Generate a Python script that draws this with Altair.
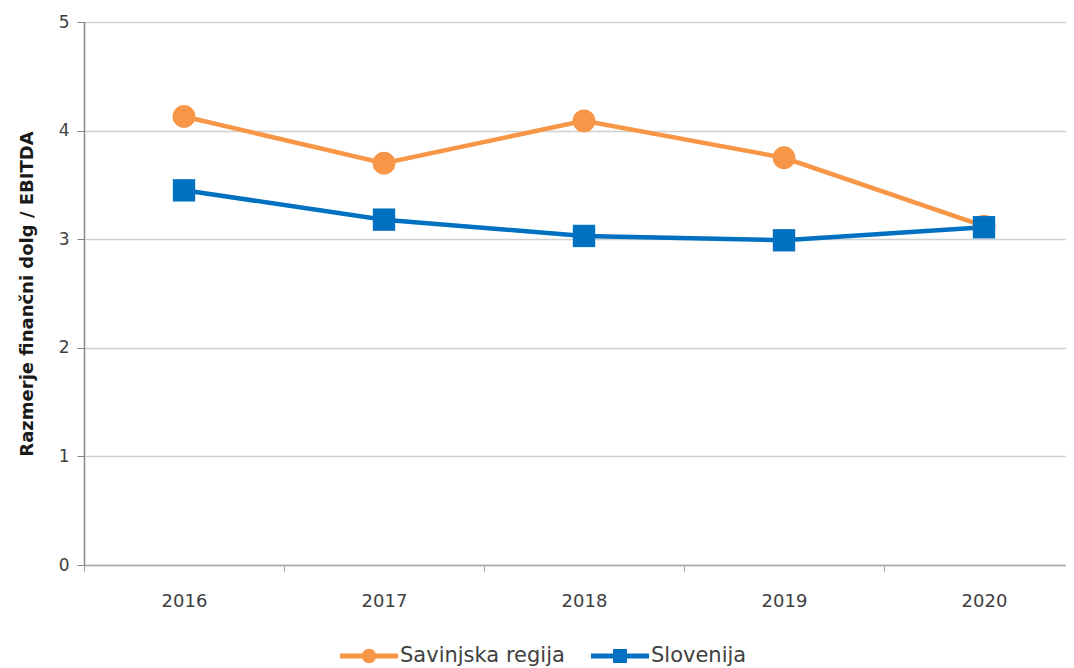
import altair as alt
import pandas as pd

years = ["2016", "2017", "2018", "2019", "2020"]
savinjska = [4.13, 3.70, 4.09, 3.75, 3.12]
slovenija = [3.45, 3.18, 3.03, 2.99, 3.11]
series_names = ["Savinjska regija", "Slovenija"]
colors = ["#F79646", "#0070C0"]
y_title = "Razmerje finančni dolg / EBITDA"

rows = []
for name, vals in zip(series_names, [savinjska, slovenija]):
    for yr, v in zip(years, vals):
        rows.append({"year": yr, "value": v, "series": name})
df = pd.DataFrame(rows)

FONT = "DejaVu Sans"
LBL = "#404040"

x_enc = alt.X(
    "year:N", sort=years,
    scale=alt.Scale(paddingInner=0, paddingOuter=0, range=[0, 1000]),
    axis=alt.Axis(title=None, tickBand="extent", labelAngle=0, grid=False,
                  domainColor="#a6a6a6", domainWidth=1.5, tickColor="#a6a6a6",
                  tickSize=7, labelPadding=20, labelFont=FONT, labelFontSize=18,
                  labelColor=LBL),
)
y_enc = alt.Y(
    "value:Q",
    scale=alt.Scale(domain=[0, 5], nice=False, zero=True),
    axis=alt.Axis(title=y_title, values=[0, 1, 2, 3, 4, 5], grid=True,
                  gridColor="#d0d0d0", gridWidth=1.5, domainColor="#868686",
                  domainWidth=1.5, tickColor="#868686", tickSize=7,
                  labelPadding=8, labelFont=FONT, labelFontSize=17, labelColor=LBL,
                  titleFont=FONT, titleFontSize=18, titleFontWeight="bold",
                  titleColor="#1a1a1a", titlePadding=22),
)
color_scale = alt.Scale(domain=series_names, range=colors)

circle_line = ("M-1,-0.085H1V0.085H-1Z "
               "M-0.25,0A0.25,0.25 0 1,1 0.25,0A0.25,0.25 0 1,1 -0.25,0Z")
square_line = ("M-1,-0.085H1V0.085H-1Z "
               "M-0.24,-0.24H0.24V0.24H-0.24Z")

leg = alt.Legend(title=None, orient="none", legendX=256, legendY=605,
                 direction="horizontal", symbolSize=3364, symbolStrokeWidth=0,
                 symbolOpacity=1, labelFont=FONT, labelFontSize=21, labelLimit=400,
                 labelColor=LBL, labelOffset=2, columnPadding=26, padding=0)

color_enc = alt.Color("series:N", scale=color_scale, legend=leg)

base = alt.Chart(df)

lines = base.mark_line(strokeWidth=4.5).encode(
    x=x_enc, y=y_enc, color=color_enc, detail="series:N",
)

pts_orange = base.transform_filter(alt.datum.series == series_names[0]).mark_point(
    filled=True, opacity=1, size=520, shape="circle"
).encode(x=x_enc, y=y_enc, color=color_enc)

pts_blue = base.transform_filter(alt.datum.series == series_names[1]).mark_point(
    filled=True, opacity=1, size=500, shape="square"
).encode(x=x_enc, y=y_enc, color=color_enc)

legend_layer = base.transform_filter("false").mark_point(
    filled=True, opacity=1
).encode(
    x=x_enc, y=y_enc, color=color_enc,
    shape=alt.Shape("series:N",
                    scale=alt.Scale(domain=series_names, range=[circle_line, square_line]),
                    legend=leg),
)

chart = alt.layer(lines, pts_orange, pts_blue, legend_layer).properties(
    width=982, height=543,
    autosize="none",
    padding={"left": 76, "top": 14, "right": 0, "bottom": 110},
    background="white",
).configure_view(stroke=None)

chart.save("out.html", embed_options={"renderer": "svg", "actions": False})
